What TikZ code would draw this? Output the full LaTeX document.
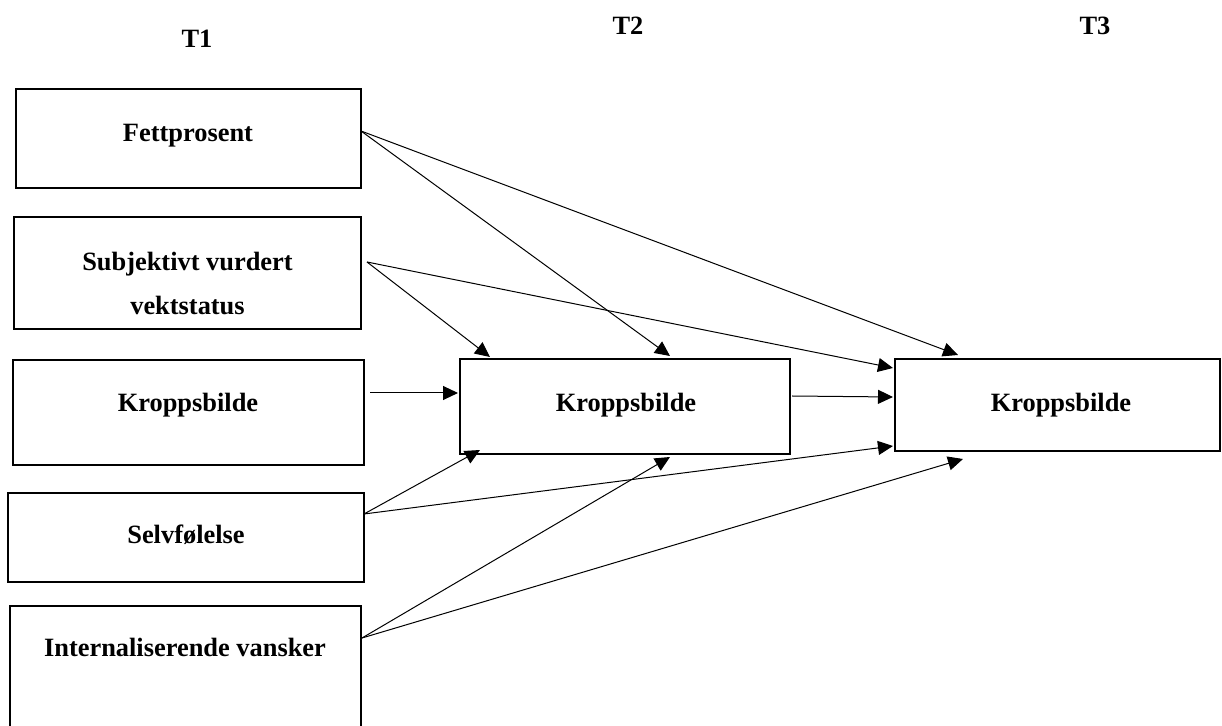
\documentclass[tikz,border=0pt]{standalone}
\usepackage{fontspec}
\setmainfont{Liberation Serif}
\usetikzlibrary{arrows.meta}

\begin{document}
\begin{tikzpicture}[x=0.5pt, y=-0.5pt,
        box/.style={draw=black, line width=1.3pt, rectangle, outer sep=0pt, inner sep=0pt},
        lbl/.style={anchor=base, font=\fontsize{13.2}{22}\selectfont\bfseries, align=center},
        arrow/.style={draw=black, line width=0.5pt, -{Triangle[length=7.5pt, width=7pt]}}]
        \useasboundingbox (0, 0) rectangle (1222, 726);

        % tidspunkt
        \node[lbl] (t1) at (197, 48) {T1};
        \node[lbl] (t2) at (628, 35) {T2};
        \node[lbl] (t3) at (1095, 35) {T3};

        % bokser T1
        \node[box, minimum width=172.5pt, minimum height=49.5pt] (fett) at (188.5, 138.5) {};
        \node[box, minimum width=173.5pt, minimum height=56pt] (subj) at (187.5, 273) {};
        \node[box, minimum width=175.5pt, minimum height=52.5pt] (kb1) at (188.5, 412.5) {};
        \node[box, minimum width=178pt, minimum height=44.5pt] (selv) at (186, 537.5) {};
        \node[box, minimum width=175.5pt, minimum height=87pt] (intern) at (185.5, 693) {};

        % bokser T2 og T3
        \node[box, minimum width=165pt, minimum height=47.5pt] (kb2) at (625, 406.5) {};
        \node[box, minimum width=162.5pt, minimum height=46pt] (kb3) at (1057.5, 405) {};

        \node[lbl] (fett-txt) at (188, 141.7) {Fettprosent};
        \node[lbl] (subj-txt) at (187.5, 315) {Subjektivt vurdert\\vektstatus};
        \node[lbl] (kb1-txt) at (188, 411.7) {Kroppsbilde};
        \node[lbl] (selv-txt) at (186, 544) {Selvfølelse};
        \node[lbl] (intern-txt) at (185, 657) {Internaliserende vansker};
        \node[lbl] (kb2-txt) at (626, 411.7) {Kroppsbilde};
        \node[lbl] (kb3-txt) at (1061, 411.7) {Kroppsbilde};

        % stier
        \draw[arrow] ([yshift=3.75pt]fett.east) -- ([xshift=105pt, yshift=1.5pt]kb2.north west);
        \draw[arrow] ([yshift=3.75pt]fett.east) -- ([xshift=31.5pt, yshift=2pt]kb3.north west);
        \draw[arrow] ([xshift=3pt, yshift=5.5pt]subj.east) -- ([xshift=15pt, yshift=1pt]kb2.north west);
        \draw[arrow] ([xshift=3pt, yshift=5.5pt]subj.east) -- ([xshift=-1pt, yshift=18.5pt]kb3.west);
        \draw[arrow] ([xshift=3pt, yshift=9.75pt]kb1.east) -- ([xshift=-1pt, yshift=6.75pt]kb2.west);
        \draw[arrow] ([xshift=1pt, yshift=5.25pt]kb2.east) -- ([xshift=-1pt, yshift=4pt]kb3.west);
        \draw[arrow] ([yshift=11.75pt]selv.east) -- ([xshift=10pt, yshift=2pt]kb2.south west);
        \draw[arrow] ([yshift=11.75pt]selv.east) -- ([xshift=-1pt, yshift=2.5pt]kb3.south west);
        \draw[arrow] ([xshift=0.5pt, yshift=-16pt]intern.north east) -- ([xshift=105pt, yshift=-1.5pt]kb2.south west);
        \draw[arrow] ([xshift=0.5pt, yshift=-16pt]intern.north east) -- ([xshift=34pt, yshift=-4pt]kb3.south west);
\end{tikzpicture}
\end{document}
